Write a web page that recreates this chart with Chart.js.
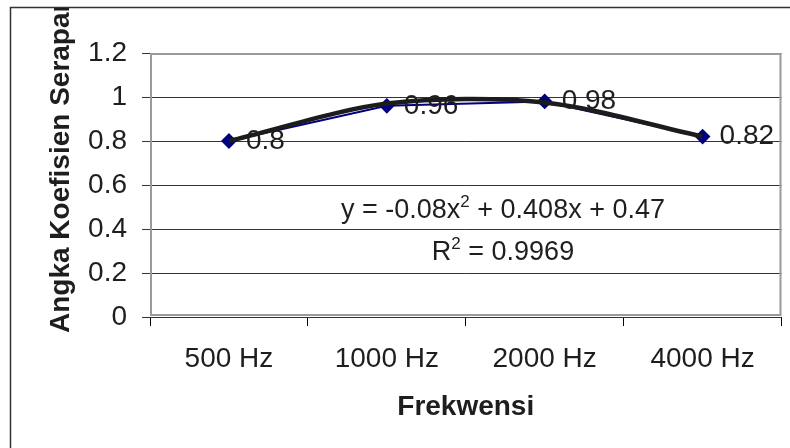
<!DOCTYPE html>
<html>
<head>
<meta charset="utf-8">
<script src="https://cdn.jsdelivr.net/npm/chart.js@4/dist/chart.umd.min.js"></script>
<style>
  html, body { margin: 0; padding: 0; background: #fff; }
  #wrap { width: 790px; height: 448px; }
</style>
</head>
<body>
<div id="wrap"><canvas id="chart" width="790" height="448"></canvas></div>
<script>
// ── Data ────────────────────────────────────────────────────────
const categories = ['500 Hz', '1000 Hz', '2000 Hz', '4000 Hz'];
const absorption = [0.8, 0.96, 0.98, 0.82];
// polynomial trendline at each category
const trendValues = [0.8, 0.97, 0.975, 0.82];
const yTickLabels = ['0', '0.2', '0.4', '0.6', '0.8', '1', '1.2'];
const eqParts = ['y = -0.08x', '2', ' + 0.408x + 0.47'];
const r2Parts = ['R', '2', ' = 0.9969'];
const xTitle = 'Frekwensi';
const yTitle = 'Angka Koefisien Serapan';

const FONT = "'Liberation Sans', Arial, sans-serif";
Chart.defaults.font.family = FONT;

// text with one superscript in the middle, centred on cx
function drawSupText(ctx, parts, cx, baseline, size) {
  const supSize = Math.round(size * 0.62);
  ctx.font = `${size}px ${FONT}`;
  const w0 = ctx.measureText(parts[0]).width;
  const w2 = ctx.measureText(parts[2]).width;
  ctx.font = `${supSize}px ${FONT}`;
  const w1 = ctx.measureText(parts[1]).width;
  let x = cx - (w0 + w1 + w2) / 2;
  ctx.textAlign = 'left';
  ctx.textBaseline = 'alphabetic';
  ctx.font = `${size}px ${FONT}`;
  ctx.fillText(parts[0], x, baseline);
  x += w0;
  ctx.font = `${supSize}px ${FONT}`;
  ctx.fillText(parts[1], x, baseline - size * 0.42);
  x += w1;
  ctx.font = `${size}px ${FONT}`;
  ctx.fillText(parts[2], x, baseline);
}

const framePlugin = {
  id: 'frame',
  beforeDraw(chart) {
    const ctx = chart.ctx;
    ctx.save();
    ctx.fillStyle = '#fff';
    ctx.fillRect(0, 0, chart.width, chart.height);
    ctx.strokeStyle = '#333';
    ctx.lineWidth = 1.5;
    ctx.beginPath();
    ctx.moveTo(10.5, chart.height);
    ctx.lineTo(10.5, 7.5);
    ctx.lineTo(chart.width, 7.5);
    ctx.stroke();
    ctx.restore();
  },
  beforeDatasetsDraw(chart) {
    const { ctx, chartArea: a } = chart;
    ctx.save();
    ctx.strokeStyle = '#9a9a9a';
    ctx.lineWidth = 2;
    ctx.strokeRect(a.left + 1, a.top + 1, a.right - a.left - 2, a.bottom - a.top - 3);
    ctx.restore();
  },
  afterDatasetsDraw(chart) {
    const ctx = chart.ctx;
    ctx.save();
    ctx.fillStyle = '#1e1e1e';
    // point labels
    const meta = chart.getDatasetMeta(1);
    ctx.font = `28px ${FONT}`;
    ctx.textAlign = 'left';
    ctx.textBaseline = 'middle';
    meta.data.forEach((pt, i) => {
      ctx.fillText(String(absorption[i]), pt.x + 17, pt.y);
    });
    // trendline equation
    drawSupText(ctx, eqParts, 503, 218, 27);
    drawSupText(ctx, r2Parts, 503, 260, 27);
    ctx.restore();
  },
  afterDraw(chart) {
    const { ctx, chartArea: a } = chart;
    ctx.save();
    ctx.fillStyle = '#1e1e1e';
    ctx.font = `bold 28px ${FONT}`;
    ctx.textAlign = 'center';
    ctx.textBaseline = 'alphabetic';
    ctx.fillText(xTitle, (a.left + a.right) / 2, 415);
    // y title, clipped at the chart frame like the original
    ctx.beginPath();
    ctx.rect(0, 8, chart.width, chart.height);
    ctx.clip();
    ctx.translate(69, 333);
    ctx.rotate(-Math.PI / 2);
    ctx.textAlign = 'left';
    ctx.fillText(yTitle, 0, 0);
    ctx.restore();
  }
};

new Chart(document.getElementById('chart'), {
  type: 'line',
  data: {
    labels: categories,
    datasets: [
      {
        label: 'Poly.',
        data: trendValues,
        borderColor: '#1c1c1c',
        borderWidth: 4.5,
        tension: 0.3,
        pointRadius: 0,
        order: 0,
      },
      {
        label: 'Koefisien',
        data: absorption,
        borderColor: '#000080',
        borderWidth: 2,
        pointStyle: 'rectRot',
        pointRadius: 6.5,
        pointBackgroundColor: '#000080',
        pointBorderColor: '#000080',
        tension: 0,
        order: 1,
      }
    ]
  },
  options: {
    responsive: false,
    animation: false,
    devicePixelRatio: 1,
    layout: { padding: { left: 0, top: 53, right: 6, bottom: 0 } },
    plugins: { legend: { display: false }, tooltip: { enabled: false } },
    scales: {
      x: {
        type: 'category',
        offset: true,
        grid: { offset: true, drawOnChartArea: false, drawTicks: true, tickLength: 9, color: '#000', lineWidth: 1 },
        border: { display: false },
        ticks: { color: '#1e1e1e', font: { size: 28 }, padding: 16, maxRotation: 0, autoSkip: false },
        afterFit: (s) => { s.height = 131; },
      },
      y: {
        min: 0,
        max: 1.2,
        grid: { color: '#333', lineWidth: 1, tickLength: 8 },
        border: { display: false },
        ticks: {
          stepSize: 0.2,
          color: '#1e1e1e',
          font: { size: 28 },
          padding: 15,
          callback: (v, i) => yTickLabels[i],
        },
        afterFit: (s) => { s.width = 150; },
      }
    }
  },
  plugins: [framePlugin]
});
</script>
</body>
</html>
